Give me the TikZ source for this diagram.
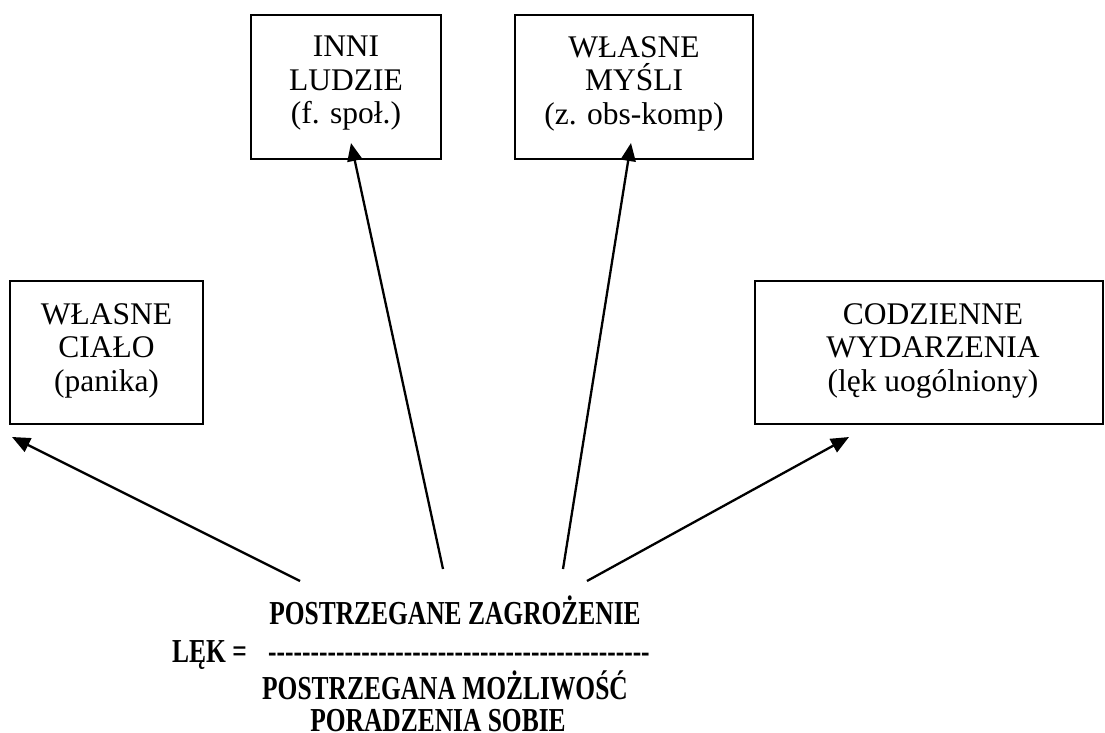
\documentclass[tikz,border=0pt]{standalone}
\usepackage{fontspec}
\setmainfont{Liberation Serif}
\newfontfamily\condb{Liberation Serif}[FakeStretch=0.76]
\usetikzlibrary{arrows.meta}
\tikzset{
  boxframe/.style={draw, line width=1.6pt, inner sep=0pt},
  boxtext/.style={inner sep=0pt, anchor=north, align=center, font=\fontsize{31.5}{33.5}\selectfont},
  eqtext/.style={inner sep=0pt, anchor=base, font=\condb\bfseries\fontsize{33.5}{36}\selectfont},
  arr/.style={line width=2.3pt, -{Triangle[length=18pt,width=15pt]}}
}
\begin{document}
\begin{tikzpicture}[x=1pt,y=-1pt]
\useasboundingbox (0,0) rectangle (1105,733);
\clip (0,0) rectangle (1105,733);
% boxes
\node[boxframe, minimum width=193pt, minimum height=143pt] (b1) at (106.5,352.5) {};
\node[boxframe, minimum width=190pt, minimum height=144pt] (b2) at (346,87) {};
\node[boxframe, minimum width=238pt, minimum height=144pt] (b3) at (634,87) {};
\node[boxframe, minimum width=348pt, minimum height=143pt] (b4) at (929,352.5) {};
% box texts
\node[boxtext] (t1) at (106.5,303) {WŁASNE\\CIAŁO\\(panika)};
\node[boxtext] (t2) at (346,36) {INNI\\LUDZIE\\(f. społ.)};
\node[boxtext] (t3) at (634,36) {WŁASNE\\MYŚLI\\(z. obs-komp)};
\node[boxtext] (t4) at (933,303) {CODZIENNE\\WYDARZENIA\\(lęk uogólniony)};
% equation
\node[eqtext] (l1) at (455,624) {POSTRZEGANE ZAGROŻENIE};
\node[eqtext, anchor=base west] (lek) at (172,662) {LĘK =};
\node[eqtext, anchor=base west] (dash) at (268,662) {---------------------------------------------};
\node[eqtext] (l3) at (445,699) {POSTRZEGANA MOŻLIWOŚĆ};
\node[eqtext] (l4) at (438,731) {PORADZENIA SOBIE};
% arrows
\coordinate (s1) at (300,581);
\coordinate (e1) at (12,437);
\coordinate (s2) at (443,569);
\coordinate (e2) at (351,143);
\coordinate (s3) at (563,569);
\coordinate (e3) at (631,143);
\coordinate (s4) at (587,581);
\coordinate (e4) at (849,437);
\draw[arr] (s1) -- (e1);
\draw[arr] (s2) -- (e2);
\draw[arr] (s3) -- (e3);
\draw[arr] (s4) -- (e4);
\end{tikzpicture}
\end{document}
